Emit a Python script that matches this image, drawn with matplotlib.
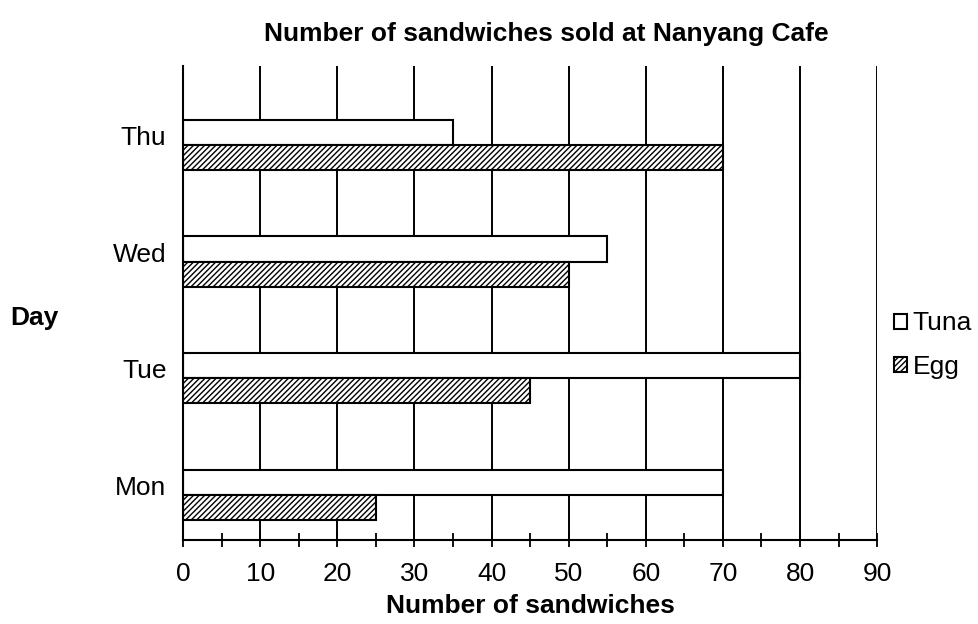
import matplotlib.pyplot as plt
import numpy as np

plt.rcParams['font.family'] = ['Liberation Sans', 'DejaVu Sans']
plt.rcParams['hatch.linewidth'] = 1.0

days = ['Mon', 'Tue', 'Wed', 'Thu']
tuna = [70, 80, 55, 35]
egg = [25, 45, 50, 70]
xticks = [0, 10, 20, 30, 40, 50, 60, 70, 80, 90]

fig = plt.figure(figsize=(9.79, 6.24), dpi=100)
ax = fig.add_axes([0.187, 0.135, 0.709, 0.76])

y = np.arange(len(days))
h = 0.215

# gridlines first so bars sit on top
for v in xticks[1:]:
    ax.axvline(v, color='black', lw=1.4, zorder=1)

ax.barh(y + h / 2, tuna, height=h, color='white', edgecolor='black', lw=1.5,
        label='Tuna', zorder=2)
ax.barh(y - h / 2, egg, height=h, color='white', edgecolor='black', lw=1.5,
        hatch='//////', label='Egg', zorder=2)

ax.set_xlim(0, 90)
ax.set_ylim(-0.385, 3.68)
ax.set_xticks(xticks)
ax.set_xticks(np.arange(5, 90, 10), minor=True)
ax.set_yticks(y + 0.08)
ax.set_yticklabels(days)
ax.tick_params(axis='x', which='both', direction='inout', length=10, width=1.3,
               labelsize=19, pad=11)
ax.tick_params(axis='y', length=0, labelsize=19, pad=12)

for s in ['top', 'right']:
    ax.spines[s].set_visible(False)
ax.spines['left'].set_linewidth(1.5)
ax.spines['bottom'].set_linewidth(1.5)

ax.set_xlabel('Number of sandwiches', fontsize=19, fontweight='bold', labelpad=6)
fig.text(0.01, 0.49, 'Day', fontsize=19, fontweight='bold', va='center')
fig.text(0.558, 0.945, 'Number of sandwiches sold at Nanyang Cafe',
         fontsize=19, fontweight='bold', ha='center', va='center')

ax.legend(loc='center left', bbox_to_anchor=(0.99, 0.41), frameon=False,
          fontsize=19, handlelength=0.5, handleheight=0.5, handletextpad=0.2,
          labelspacing=0.75)

fig.savefig('out.png', dpi=100)
